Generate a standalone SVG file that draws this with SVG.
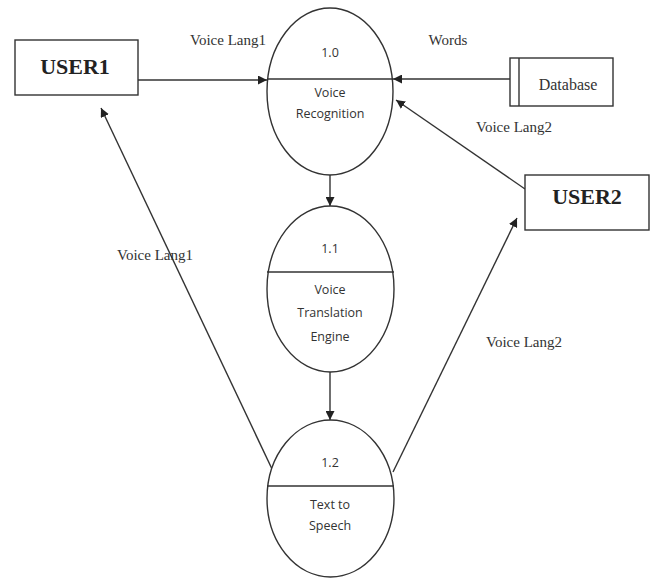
<svg xmlns="http://www.w3.org/2000/svg" width="653" height="586" viewBox="0 0 653 586">
  <style>
    .shape { fill: #fff; stroke: #333; stroke-width: 1.4; }
    .line { fill: none; stroke: #333; stroke-width: 1.4; }
    .flow { fill: none; stroke: #333; stroke-width: 1.4; marker-end: url(#arrow); }
    .ent { font-family: "Liberation Serif", "Times New Roman", serif; font-weight: bold; font-size: 22px; fill: #222; text-anchor: middle; }
    .lbl { font-family: "Liberation Serif", "Times New Roman", serif; font-size: 15px; fill: #333; text-anchor: middle; }
    .db { font-size: 16px; }
    .proc { font-family: "Open Sans", "Liberation Sans", sans-serif; font-size: 12.5px; font-weight: 500; fill: #333; text-anchor: middle; }
  </style>
  <defs>
    <marker id="arrow" viewBox="0 0 10 10" refX="10" refY="5" markerWidth="9" markerHeight="9" markerUnits="userSpaceOnUse" orient="auto">
      <path d="M0,0 L10,5 L0,10 z" fill="#222"/>
    </marker>
  </defs>
  <rect width="653" height="586" fill="#fff"/>

  <g id="connectors">
    <line class="flow" x1="138" y1="80" x2="267" y2="80"/>
    <line class="flow" x1="510" y1="79" x2="393" y2="79"/>
    <line class="flow" x1="525" y1="189" x2="396" y2="100"/>
    <line class="flow" x1="330" y1="175" x2="330" y2="206"/>
    <line class="flow" x1="330" y1="372" x2="330" y2="420"/>
    <line class="flow" x1="272" y1="469" x2="101" y2="108"/>
    <line class="flow" x1="393" y1="472" x2="517" y2="218"/>
    <text class="lbl" x="228" y="45">Voice Lang1</text>
    <text class="lbl" x="448" y="45">Words</text>
    <text class="lbl" x="514" y="132">Voice Lang2</text>
    <text class="lbl" x="155" y="260">Voice Lang1</text>
    <text class="lbl" x="524" y="347">Voice Lang2</text>
  </g>

  <g id="user1">
    <rect class="shape" x="15" y="40" width="123" height="55"/>
    <text class="ent" x="75" y="74">USER1</text>
  </g>

  <g id="user2">
    <rect class="shape" x="525" y="175" width="124" height="55"/>
    <text class="ent" x="587" y="204">USER2</text>
  </g>

  <g id="database">
    <rect class="shape" x="510" y="58" width="103" height="48"/>
    <line class="line" x1="519" y1="58" x2="519" y2="106"/>
    <text class="lbl db" x="568" y="90">Database</text>
  </g>

  <g id="p1-0">
    <ellipse class="shape" cx="330" cy="91.5" rx="63" ry="83.5" style="fill:none"/>
    <line class="line" x1="267" y1="79" x2="393" y2="79"/>
    <text class="proc" x="330" y="57">1.0</text>
    <text class="proc" x="330" y="97">Voice</text>
    <text class="proc" x="330" y="118">Recognition</text>
  </g>

  <g id="p1-1">
    <ellipse class="shape" cx="330.5" cy="289" rx="63.5" ry="83"/>
    <line class="line" x1="267" y1="272" x2="394" y2="272"/>
    <text class="proc" x="330" y="253">1.1</text>
    <text class="proc" x="330" y="294">Voice</text>
    <text class="proc" x="330" y="317">Translation</text>
    <text class="proc" x="330" y="341">Engine</text>
  </g>

  <g id="p1-2">
    <ellipse class="shape" cx="330.5" cy="498.5" rx="63.5" ry="78.5"/>
    <line class="line" x1="267" y1="486" x2="394" y2="486"/>
    <text class="proc" x="330" y="467">1.2</text>
    <text class="proc" x="330" y="509">Text to</text>
    <text class="proc" x="330" y="530">Speech</text>
  </g>
</svg>
